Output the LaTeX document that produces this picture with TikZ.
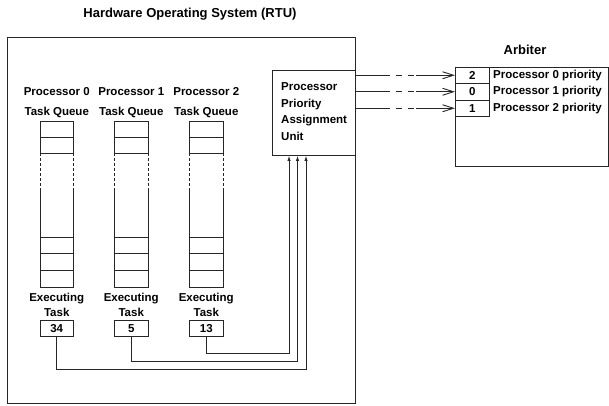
\documentclass[tikz,border=0pt]{standalone}
\usepackage{fontspec}
\setmainfont{Liberation Sans}
\usetikzlibrary{arrows.meta,calc}

\tikzset{
  base/.style={line width=0.9pt, draw=black!85},
  lbl/.style={font=\bfseries\fontsize{11.5}{13}\selectfont, inner sep=0pt},
  head/.style={font=\bfseries\fontsize{13}{15}\selectfont, inner sep=0pt},
  cell/.style={base, rectangle, minimum width=33.5pt, minimum height=16.5pt, inner sep=0pt,
               font=\bfseries\fontsize{11.5}{13}\selectfont},
  feed/.style={base, -{Latex[length=5pt,width=3.5pt]}},
  prio/.style={base, -{Straight Barb[length=11pt,width=7pt]}},
  qdash/.style={base, dash pattern=on 3pt off 2pt}
}

\begin{document}
\begin{tikzpicture}[x=1pt,y=-1pt]
\useasboundingbox (0,0) rectangle (609,405);

% system frame and title
\node[head] (title) at (190,14) {Hardware Operating System (RTU)};
\draw[base] (7,37) rectangle (355,403);

% priority assignment unit
\node[base, rectangle, minimum width=83pt, minimum height=85pt, inner sep=0pt,
      anchor=north west] (ppau) at (272,70) {};
\node[lbl, anchor=west, align=left] (ppaut) at (281,113)
  {\begin{tabular}{@{}l@{}}Processor\\[3.5pt] Priority\\[3.5pt] Assignment\\[3.5pt] Unit\end{tabular}};

% task queues, one per processor
\foreach \i/\x/\n in {0/40/34, 1/114.5/5, 2/189.5/13} {
  \node[lbl] (proc\i) at (\x+16.75,92) {Processor \i};
  \node[lbl] (tq\i) at (\x+16.75,112) {Task Queue};
  \draw[base] (\x,121) rectangle ++(33.5,16) (\x,137) rectangle ++(33.5,16);
  \draw[qdash] (\x,153) -- (\x,188) (\x+33.5,153) -- (\x+33.5,188);
  \draw[base] (\x,188) -- (\x,237) (\x+33.5,188) -- (\x+33.5,237);
  \draw[base] (\x,237) rectangle ++(33.5,16.5) (\x,253.5) rectangle ++(33.5,16.5)
              (\x,270) rectangle ++(33.5,17);
  \node[lbl] (ex\i) at (\x+16.75,299) {Executing};
  \node[lbl] (et\i) at (\x+16.75,312) {Task};
  \node[cell] (e\i) at (\x+16.75,328.5) {\n};
}

% executing task numbers feed the assignment unit
\coordinate (r0) at (306,369);
\coordinate (r1) at (297.5,361);
\coordinate (r2) at (289,353);
\draw[feed] (e0.south) |- (r0) -- (r0 |- ppau.south);
\draw[feed] (e1.south) |- (r1) -- (r1 |- ppau.south);
\draw[feed] (e2.south) |- (r2) -- (r2 |- ppau.south);

% arbiter
\node[head] (arbt) at (525,50) {Arbiter};
\draw[base] (455,67) rectangle (608,166);
\foreach \i/\v/\y in {0/2/75.25, 1/0/91.75, 2/1/108.25} {
  \node[cell, anchor=west] (a\i) at (455,\y) {\v};
  \node[lbl, anchor=west] (at\i) at (493,\y) {Processor \i{} priority};
  \coordinate (s\i) at (ppau.east |- a\i.west);
  \coordinate (m\i) at ($(s\i)+(28,0)$);
  \coordinate (n\i) at ($(s\i)+(60,0)$);
  \draw[base] (s\i) -- (m\i);
  \draw[qdash, dash pattern=on 6pt off 6pt] (m\i) -- (n\i);
  \draw[prio] (n\i) -- (a\i.west);
}
\end{tikzpicture}
\end{document}
